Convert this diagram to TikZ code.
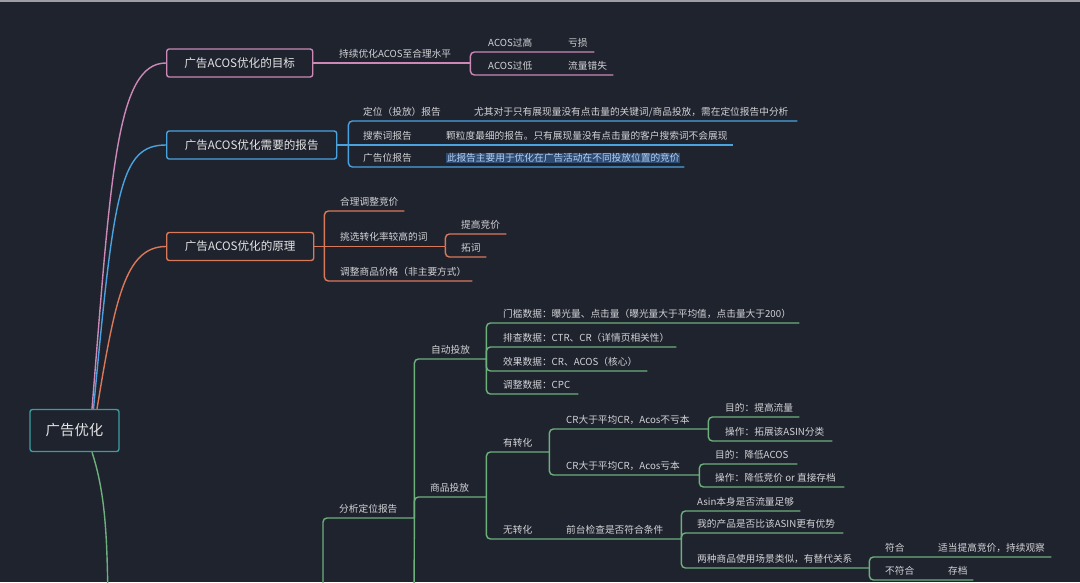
\documentclass[tikz,border=0pt]{standalone}
\usepackage{fontspec}
\setmainfont{Noto Sans CJK SC}
\usetikzlibrary{calc}

\definecolor{bgc}{HTML}{1F232E}
\definecolor{topc}{HTML}{9C9EA3}
\definecolor{txtc}{HTML}{E4E4E4}
\definecolor{leafc}{HTML}{D2D3D6}
\definecolor{tealc}{HTML}{3A9EA0}
\definecolor{pinkc}{HTML}{CC89B8}
\definecolor{bluec}{HTML}{4AA3DF}
\definecolor{orangec}{HTML}{D9795A}
\definecolor{greenc}{HTML}{6DB07C}
\definecolor{hlbg}{HTML}{2E4B74}
\definecolor{hltext}{HTML}{B4CFF2}

\newcommand\hlmark[1]{{\setlength\fboxsep{0.6pt}\colorbox{hlbg}{\color{hltext}#1}}}

\tikzset{
  mainbox/.style={draw,line width=1.4pt,rounded corners=2.5pt,anchor=west,
    minimum height=28pt,inner sep=0pt,text=txtc,
    font=\fontsize{11.6pt}{13pt}\selectfont},
  leaf/.style={anchor=south west,inner sep=0pt,text depth=5.4pt,text=leafc,
    font=\fontsize{9.7pt}{11pt}\selectfont,
    execute at begin node={\hbox to #1\bgroup},
    execute at end node={\hss\egroup}},
  twig/.style={line width=1.4pt,rounded corners=4pt},
  limb/.style={line width=1.4pt}
}

\begin{document}
\begin{tikzpicture}[x=1pt,y=-1pt]

\fill[bgc] (0,0) rectangle (1080,582);
\useasboundingbox (0,0) rectangle (1080,582);
\clip (0,0) rectangle (1080,582);
\fill[topc] (0,0) rectangle (1080,1.6);

% root and first level
\node[mainbox,anchor=center,draw=tealc,minimum width=89pt,minimum height=42pt,
  font=\fontsize{14.4pt}{16pt}\selectfont] (root) at (74.5,430.5) {广告优化};
\node[mainbox,draw=pinkc,minimum width=146pt] (n1) at (166,63) {广告ACOS优化的目标};
\node[mainbox,draw=bluec,minimum width=170pt] (n2) at (166,145) {广告ACOS优化需要的报告};
\node[mainbox,draw=orangec,minimum width=147pt] (n3) at (166,246.5) {广告ACOS优化的原理};

\coordinate (gdown) at (108,600);
\draw[limb,pinkc] ([xshift=17.5pt]root.north) .. controls (111,175) and (116,63) .. (n1.west);
\draw[limb,bluec] ([xshift=19pt]root.north) .. controls (114,190) and (120,145) .. (n2.west);
\draw[limb,orangec] ([xshift=22.5pt]root.north) .. controls (115,300) and (125,246.5) .. (n3.west);
\draw[limb,greenc] ([xshift=17.5pt]root.south) .. controls (106,495) and (107,540) .. (gdown);

% goal
\node[leaf=131pt] (g0) at (339,63) {持续优化ACOS至合理水平};
\node[leaf=80pt] (g1) at (488,52) {ACOS过高};
\node[leaf=26pt] (g2) at (568,52) {亏损};
\node[leaf=80pt] (g3) at (488,75) {ACOS过低};
\node[leaf=45pt] (g4) at (568,75) {流量错失};
\draw[limb,pinkc] (n1.east) -- (g0.south west) -- (g0.south east);
\draw[twig,pinkc] (g0.south east) |- (g1.south west) -- (g2.south east);
\draw[twig,pinkc] (g0.south east) |- (g3.south west) -- (g4.south east);

% reports
\coordinate (rb) at ([xshift=11pt]n2.east);
\node[leaf=111pt] (r1) at (363,121) {定位（投放）报告};
\node[leaf=323pt] (r2) at (474,121) {尤其对于只有展现量没有点击量的关键词/商品投放，需在定位报告中分析};
\node[leaf=83pt] (r3) at (363,145) {搜索词报告};
\node[leaf=287pt] (r4) at (446,145) {颗粒度最细的报告。只有展现量没有点击量的客户搜索词不会展现};
\node[leaf=83pt] (r5) at (363,167) {广告位报告};
\node[leaf=238pt] (r6) at (446,167) {\hlmark{此报告主要用于优化在广告活动在不同投放位置的竞价}};
\draw[limb,bluec] (n2.east) -- (rb);
\draw[twig,bluec] (rb) |- (r1.south west) -- (r2.south east);
\draw[limb,bluec] (rb) -- (r3.south west) -- (r4.south east);
\draw[twig,bluec] (rb) |- (r5.south west) -- (r6.south east);

% principle
\coordinate (pb) at ([xshift=10pt]n3.east);
\node[leaf=64pt] (p1) at (340,211) {合理调整竞价};
\node[leaf=105pt] (p2) at (340,246.5) {挑选转化率较高的词};
\node[leaf=45pt] (p3) at (461,234) {提高竞价};
\node[leaf=25pt] (p4) at (461,257) {拓词};
\node[leaf=132pt] (p5) at (340,281) {调整商品价格（非主要方式）};
\draw[limb,orangec] (n3.east) -- (pb);
\draw[twig,orangec] (pb) |- (p1.south west) -- (p1.south east);
\draw[limb,orangec] (pb) -- (p2.south west) -- (p2.south east);
\draw[twig,orangec] (pb) |- (p5.south west) -- (p5.south east);
\draw[twig,orangec] (p2.south east) |- (p3.south west) -- (p3.south east);
\draw[twig,orangec] (p2.south east) |- (p4.south west) -- (p4.south east);

% analysis
\coordinate (a0foot) at (323,600);
\coordinate (a2foot) at (414,600);
\node[leaf=75pt] (a0) at (339,518) {分析定位报告};
\node[leaf=55pt] (a1) at (431,359) {自动投放};
\node[leaf=56pt] (a2) at (430,497) {商品投放};
\draw[twig,greenc] (a0foot) |- (a0.south west) -- (a0.south east);
\draw[twig,greenc] (a0.south east) |- (a1.south west) -- (a1.south east);
\draw[twig,greenc] (a0.south east) |- (a2.south west) -- (a2.south east);
\draw[limb,greenc] (a0.south east) -- (a2foot);

\node[leaf=296pt] (m1) at (503,323) {门槛数据：曝光量、点击量（曝光量大于平均值，点击量大于200）};
\node[leaf=173pt] (m2) at (503,347) {排查数据：CTR、CR（详情页相关性）};
\node[leaf=144pt] (m3) at (503,371) {效果数据：CR、ACOS（核心）};
\node[leaf=75pt] (m4) at (503,394) {调整数据：CPC};
\draw[twig,greenc] (a1.south east) |- (m1.south west) -- (m1.south east);
\draw[twig,greenc] (a1.south east) |- (m2.south west) -- (m2.south east);
\draw[twig,greenc] (a1.south east) |- (m3.south west) -- (m3.south east);
\draw[twig,greenc] (a1.south east) |- (m4.south west) -- (m4.south east);

\node[leaf=46pt] (b1) at (503,452) {有转化};
\node[leaf=63pt] (b2) at (503,539) {无转化};
\node[leaf=115pt] (b3) at (566,539) {前台检查是否符合条件};
\draw[twig,greenc] (a2.south east) |- (b1.south west) -- (b1.south east);
\draw[twig,greenc] (a2.south east) |- (b2.south west) -- (b3.south east);

\node[leaf=142pt] (c1) at (566,429) {CR大于平均CR，Acos不亏本};
\node[leaf=133pt] (c2) at (566,475) {CR大于平均CR，Acos亏本};
\draw[twig,greenc] (b1.south east) |- (c1.south west) -- (c1.south east);
\draw[twig,greenc] (b1.south east) |- (c2.south west) -- (c2.south east);

\node[leaf=74pt] (c11) at (725,417) {目的：提高流量};
\node[leaf=107pt] (c12) at (725,441) {操作：拓展该ASIN分类};
\node[leaf=82pt] (c21) at (715,464) {目的：降低ACOS};
\node[leaf=129pt] (c22) at (715,487) {操作：降低竞价 or 直接存档};
\draw[twig,greenc] (c1.south east) |- (c11.south west) -- (c11.south east);
\draw[twig,greenc] (c1.south east) |- (c12.south west) -- (c12.south east);
\draw[twig,greenc] (c2.south east) |- (c21.south west) -- (c21.south east);
\draw[twig,greenc] (c2.south east) |- (c22.south west) -- (c22.south east);

\node[leaf=103pt] (d1) at (697,511) {Asin本身是否流量足够};
\node[leaf=146pt] (d2) at (697,533) {我的产品是否比该ASIN更有优势};
\node[leaf=172pt] (d3) at (697,568) {两种商品使用场景类似，有替代关系};
\draw[twig,greenc] (b3.south east) |- (d1.south west) -- (d1.south east);
\draw[twig,greenc] (b3.south east) |- (d2.south west) -- (d2.south east);
\draw[twig,greenc] (b3.south east) |- (d3.south west) -- (d3.south east);

\node[leaf=53pt] (e1) at (885,557) {符合};
\node[leaf=113pt] (e2) at (938,557) {适当提高竞价，持续观察};
\node[leaf=63pt] (e3) at (885,580) {不符合};
\node[leaf=25pt] (e4) at (948,580) {存档};
\draw[twig,greenc] (d3.south east) |- (e1.south west) -- (e2.south east);
\draw[twig,greenc] (d3.south east) |- (e3.south west) -- (e4.south east);
\end{tikzpicture}
\end{document}
